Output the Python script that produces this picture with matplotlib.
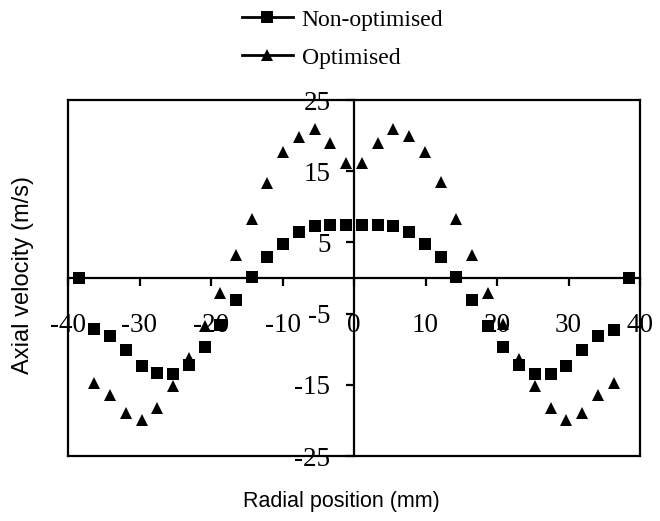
import matplotlib
matplotlib.use("Agg")
import matplotlib.pyplot as plt
from matplotlib.lines import Line2D

plt.rcParams['axes.unicode_minus'] = False

# Data
x_non = [-38.5, -36.3, -34.1, -31.9, -29.7, -27.5, -25.3, -23.1, -20.9, -18.7, -16.5, -14.3,
         -12.1, -9.9, -7.7, -5.5, -3.3, -1.1, 1.1, 3.3, 5.5, 7.7, 9.9, 12.1,
         14.3, 16.5, 18.7, 20.9, 23.1, 25.3, 27.5, 29.7, 31.9, 34.1, 36.3, 38.5]
y_non = [0, -7.2, -8.2, -10.1, -12.3, -13.4, -13.5, -12.2, -9.7, -6.6, -3.1, 0.1,
         2.9, 4.8, 6.5, 7.3, 7.4, 7.5, 7.4, 7.4, 7.3, 6.5, 4.8, 2.9,
         0.2, -3.1, -6.7, -9.7, -12.2, -13.5, -13.5, -12.3, -10.1, -8.2, -7.3, 0]

x_opt = [-36.3, -34.1, -31.9, -29.7, -27.5, -25.3, -23.1, -20.9, -18.7, -16.5, -14.3,
         -12.1, -9.9, -7.7, -5.5, -3.3, -1.1, 1.1, 3.3, 5.5, 7.7, 9.9, 12.1,
         14.3, 16.5, 18.7, 20.9, 23.1, 25.3, 27.5, 29.7, 31.9, 34.1, 36.3]
y_opt = [-14.8, -16.5, -19.0, -19.9, -18.2, -15.2, -11.2, -6.7, -2.1, 3.2, 8.3,
         13.4, 17.7, 19.8, 20.9, 18.9, 16.2, 16.1, 18.9, 20.9, 20.0, 17.7, 13.5,
         8.3, 3.2, -2.1, -6.5, -11.4, -15.2, -18.2, -19.9, -19.0, -16.5, -14.8]

x_ticks = [-40, -30, -20, -10, 0, 10, 20, 30, 40]
y_ticks = [-25, -15, -5, 5, 15, 25]
series_names = ["Non-optimised", "Optimised"]

W, H = 660, 521
fig = plt.figure(figsize=(W / 100, H / 100), dpi=100)
ax = fig.add_axes([68 / W, 1 - 456 / H, 572 / W, 356 / H])

ax.plot(x_non, y_non, linestyle='none', marker='s', ms=8, mew=0, color='black', zorder=3)
ax.plot(x_opt, y_opt, linestyle='none', marker='^', ms=8.5, mew=0, color='black', zorder=4)

ax.set_xlim(-40, 40)
ax.set_ylim(-25, 25)

lw = 1.6
for s in ['top', 'right', 'left', 'bottom']:
    ax.spines[s].set_linewidth(lw)
ax.spines['left'].set_position(('data', 0))
ax.spines['bottom'].set_position(('data', 0))
# frame edges on left and bottom
ax.add_line(Line2D([0, 0], [0, 1], transform=ax.transAxes, color='black', lw=lw, clip_on=False))
ax.add_line(Line2D([0, 1], [0, 0], transform=ax.transAxes, color='black', lw=lw, clip_on=False))

serif = 'Liberation Serif'
ax.set_xticks(x_ticks)
ax.set_xticklabels([str(v) for v in x_ticks], fontfamily=serif, fontsize=19.5)
ax.set_yticks(y_ticks)
ax.set_yticklabels([str(v) for v in y_ticks], fontfamily=serif, fontsize=19.5)
ax.tick_params(axis='x', direction='out', length=6, width=lw, pad=19)
ax.tick_params(axis='y', direction='out', length=6, width=lw, pad=11)
ax.tick_params(top=False, right=False)

fig.text(341 / W, 1 - 507 / H, "Radial position (mm)", fontfamily='Liberation Sans',
         fontsize=15.5, ha='center', va='baseline')
fig.text(34 / W, 1 - 275 / H, "Axial velocity (m/s)", fontfamily='Liberation Sans',
         fontsize=17, ha='right', va='center', rotation=90)

handles = [Line2D([], [], color='black', lw=2, marker='s', ms=8, mew=0),
           Line2D([], [], color='black', lw=2, marker='^', ms=8.5, mew=0)]
fig.legend(handles, series_names, loc='upper left', bbox_to_anchor=(242 / W, 1 - 9 / H),
           frameon=False, prop={'family': serif, 'size': 17}, handlelength=2.15,
           handletextpad=0.38, labelspacing=0.7, borderpad=0, borderaxespad=0)

fig.savefig("out.png", dpi=100)
